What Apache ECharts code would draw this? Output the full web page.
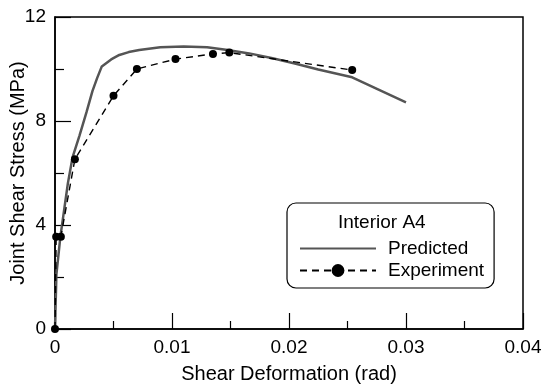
<!DOCTYPE html>
<html>
<head>
<meta charset="utf-8">
<script src="https://cdn.jsdelivr.net/npm/echarts@6/dist/echarts.min.js"></script>
<style>
html,body{margin:0;padding:0;background:#fff;}
#chart{width:543px;height:385px;}
</style>
</head>
<body>
<div id="chart"></div>
<script>
const predictedX = [0, 0.00012, 0.00046, 0.00074, 0.0011, 0.0015, 0.0021, 0.0027, 0.0032, 0.0036, 0.004, 0.0048, 0.0055, 0.0063, 0.0072, 0.009, 0.011, 0.013, 0.0146, 0.0166, 0.0186, 0.0205, 0.0225, 0.0254, 0.0277, 0.030];
const predictedY = [0, 2.1, 3.55, 4.45, 5.6, 6.6, 7.45, 8.35, 9.15, 9.65, 10.1, 10.37, 10.54, 10.65, 10.73, 10.84, 10.87, 10.84, 10.74, 10.6, 10.41, 10.21, 9.98, 9.68, 9.2, 8.72];
const experimentX = [0, 0.0001, 0.0005, 0.0017, 0.005, 0.007, 0.0103, 0.0135, 0.0149, 0.0254];
const experimentY = [0, 3.55, 3.55, 6.53, 8.97, 10.0, 10.38, 10.58, 10.63, 9.96];
const xTicks = [0, 0.01, 0.02, 0.03, 0.04];
const yTicks = [0, 4, 8, 12];
const legendTitle = 'Interior A4';
const seriesNames = ['Predicted', 'Experiment'];

const FONT = 'Liberation Sans, Arial, sans-serif';
const chart = echarts.init(document.getElementById('chart'), null, {renderer: 'canvas'});
const zip = (xs, ys) => xs.map((x, i) => [x, ys[i]]);

chart.setOption({
  animation: false,
  backgroundColor: '#fff',
  grid: {left: 55, right: 20, top: 17, bottom: 56, show: true, borderColor: '#000', borderWidth: 1.5,
         backgroundColor: 'transparent', containLabel: false, outerBoundsMode: 'none'},
  xAxis: {
    type: 'value', min: xTicks[0], max: xTicks[xTicks.length - 1], interval: 0.01,
    name: 'Shear Deformation (rad)', nameLocation: 'middle', nameGap: 35, nameMoveOverlap: false,
    nameTextStyle: {fontFamily: FONT, fontSize: 20, color: '#000'},
    axisLine: {show: true, lineStyle: {color: '#000', width: 1.5}},
    axisTick: {show: true, inside: true, length: 16, lineStyle: {color: '#000', width: 1.2}},
    minorTick: {show: true, splitNumber: 2, length: 8, lineStyle: {color: '#000', width: 1.2}},
    splitLine: {show: false},
    axisLabel: {fontFamily: FONT, fontSize: 19, color: '#000', margin: 9,
      formatter: v => String(Math.round(v * 1000) / 1000)}
  },
  yAxis: {
    type: 'value', min: yTicks[0], max: yTicks[yTicks.length - 1], interval: 4,
    name: 'Joint Shear Stress (MPa)', nameLocation: 'middle', nameGap: 27, nameMoveOverlap: false,
    nameTextStyle: {fontFamily: FONT, fontSize: 20, color: '#000'},
    axisLine: {show: true, lineStyle: {color: '#000', width: 1.5}},
    axisTick: {show: true, inside: true, length: 16, lineStyle: {color: '#000', width: 1.2}},
    minorTick: {show: true, splitNumber: 2, length: 9, lineStyle: {color: '#000', width: 1.2}},
    splitLine: {show: false},
    axisLabel: {fontFamily: FONT, fontSize: 19, color: '#000', margin: 9}
  },
  legend: {
    orient: 'vertical', left: 287, top: 203,
    padding: [36, 10, 8, 12],
    itemWidth: 76, itemHeight: 16, itemGap: 3,
    borderColor: '#000', borderWidth: 1.2, borderRadius: 9, backgroundColor: '#fff',
    textStyle: {fontFamily: FONT, fontSize: 19, color: '#000', padding: [0, 0, 0, 7]},
    data: [{name: seriesNames[0], itemStyle: {opacity: 0}}, {name: seriesNames[1]}]
  },
  graphic: [{
    type: 'text', left: 338, top: 213, z: 100,
    style: {text: legendTitle, font: '19px ' + FONT, fill: '#000'}
  }],
  series: [
    {
      name: seriesNames[0], type: 'line', data: zip(predictedX, predictedY),
      symbol: 'none', smooth: false,
      lineStyle: {color: '#555', width: 2.5},
      itemStyle: {color: '#555'}
    },
    {
      name: seriesNames[1], type: 'line', data: zip(experimentX, experimentY),
      symbol: 'circle', symbolSize: 8, showSymbol: true,
      lineStyle: {color: '#000', width: 1.4, type: [7, 5]},
      itemStyle: {color: '#000'}
    }
  ]
});
</script>
</body>
</html>
